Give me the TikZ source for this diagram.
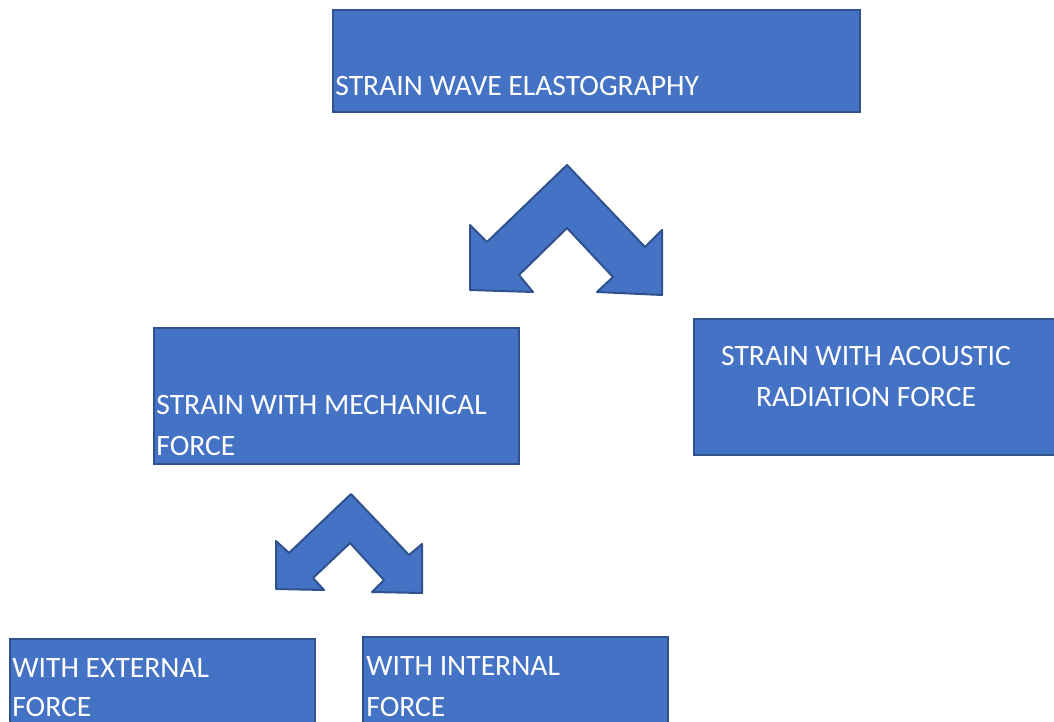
\documentclass[tikz,border=0pt]{standalone}
\usepackage{fontspec}
\setmainfont{Carlito}
\definecolor{boxfill}{HTML}{4472C4}
\definecolor{boxline}{HTML}{2F528F}
\begin{document}
\begin{tikzpicture}[x=0.5pt,y=-0.5pt,
  box/.style={draw=boxline, fill=boxfill, line width=1pt, rectangle, inner sep=0pt},
  lbl/.style={text=white, inner sep=0pt, font=\fontsize{14.8pt}{20.5pt}\selectfont},
  blockarrow/.style={draw=boxline, fill=boxfill, line width=1pt, line join=round}]
\useasboundingbox (0,0) rectangle (1054,722);
\begin{scope}
\clip (0,0) rectangle (1054,722);
% boxes
\node[box, minimum width=263.5pt, minimum height=51pt] (top) at (596.5,61) {};
\node[box, minimum width=182.5pt, minimum height=68pt] (mech) at (336.5,396) {};
\node[box, minimum width=183pt, minimum height=68pt] (acou) at (877,387) {};
\node[box, minimum width=152.5pt, minimum height=45.5pt] (ext) at (162.5,684.5) {};
\node[box, minimum width=152.5pt, minimum height=46.5pt] (int) at (515.5,683.5) {};
% labels
\node[lbl, anchor=base west] (topt) at (335,96) {STRAIN WAVE ELASTOGRAPHY};
\node[lbl, anchor=base west] (mech1) at (156,414) {STRAIN WITH MECHANICAL};
\node[lbl, anchor=base west] (mech2) at (156,455) {FORCE};
\node[lbl, anchor=base] (acou1) at (866,365) {STRAIN WITH ACOUSTIC};
\node[lbl, anchor=base] (acou2) at (866,406) {RADIATION FORCE};
\node[lbl, anchor=base west] (ext1) at (12,677) {WITH EXTERNAL};
\node[lbl, anchor=base west] (ext2) at (12,716) {FORCE};
\node[lbl, anchor=base west] (int1) at (366,675) {WITH INTERNAL};
\node[lbl, anchor=base west] (int2) at (366,716) {FORCE};
% big split arrow
\draw[blockarrow] (567,165) -- (645,247) -- (662,230) -- (662,295) -- (597,292)
  -- (613,277) -- (567,228) -- (519,275) -- (533,292) -- (470,290) -- (470,225)
  -- (487,242) -- cycle;
% small split arrow
\draw[blockarrow] (351,494) -- (409,555) -- (422,544) -- (422,593) -- (372,592)
  -- (384,580) -- (350,543) -- (313,578) -- (324,590) -- (276,589) -- (276,541)
  -- (289,553) -- cycle;
\end{scope}
\end{tikzpicture}
\end{document}
